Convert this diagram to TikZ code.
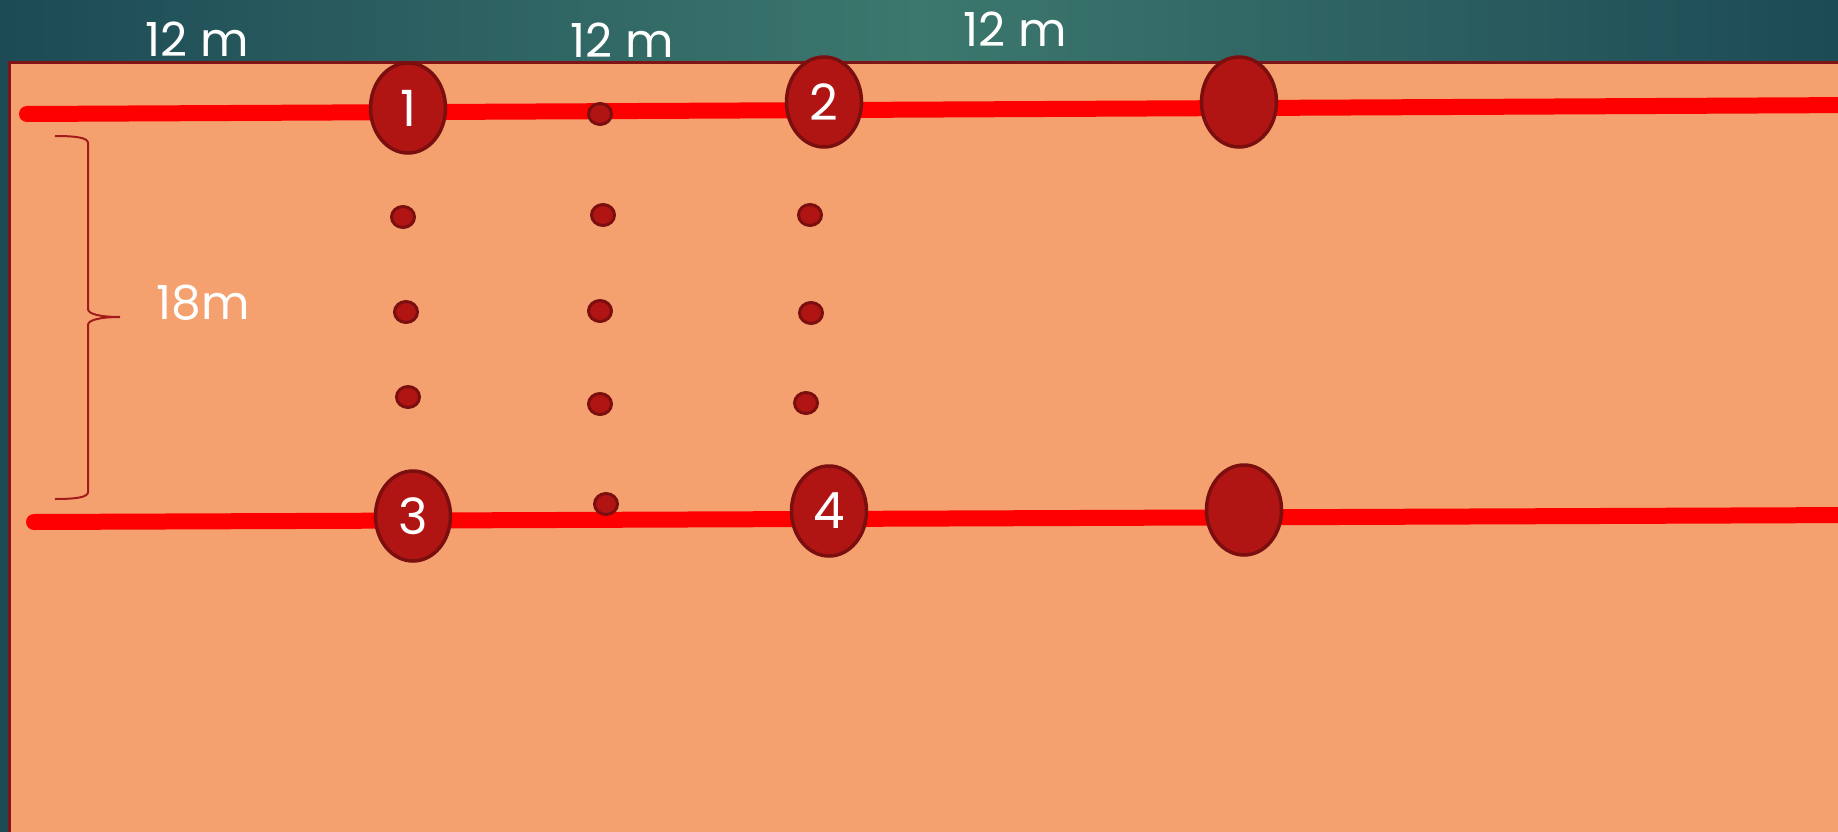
\documentclass[tikz,border=0pt]{standalone}
\usepackage{fontspec}
\setmainfont{Poppins}
\usepackage{xcolor}
\usepackage{tikz}
\usetikzlibrary{shapes.geometric}
\definecolor{sitefill}{HTML}{F4A16F}
\definecolor{siteedge}{HTML}{7E1416}
\definecolor{tealdark}{HTML}{1D4A55}
\definecolor{teallight}{HTML}{3C786E}
\definecolor{pilefill}{HTML}{B01514}
\definecolor{pileedge}{HTML}{7B0F0F}
\definecolor{bracered}{HTML}{A31A1A}
\tikzset{
  bigpile/.style={ellipse,draw=pileedge,fill=pilefill,line width=3.5pt,
    minimum width=75pt,minimum height=90pt,inner sep=0pt,
    text=white,font=\fontsize{50}{54}\selectfont},
  smallpile/.style={ellipse,draw=pileedge,fill=pilefill,line width=3pt,
    minimum width=23pt,minimum height=21pt,inner sep=0pt},
  pileline/.style={draw=red,line width=16pt,line cap=round},
  dimlabel/.style={text=white,inner sep=0pt,font=\fontsize{47}{50}\selectfont},
}

\begin{document}
\begin{tikzpicture}[x=1pt,y=-1pt]
  \useasboundingbox (0,0) rectangle (1838,832);
  \clip (0,0) rectangle (1838,832);
  % background and site
  \shade[left color=tealdark,right color=tealdark,middle color=teallight]
    (0,0) rectangle (1838,832);
  \draw[siteedge,line width=3pt,fill=sitefill] (9,63) rectangle (1860,860);

  % pile rows
  \coordinate (topL) at (27,114);
  \coordinate (topR) at (1860,105);
  \coordinate (botL) at (34,522);
  \coordinate (botR) at (1860,515);
  \draw[pileline] (topL) -- (topR);
  \draw[pileline] (botL) -- (botR);

  \node[bigpile] (p1) at (408,108) {1};
  \node[bigpile] (p2) at (824,102) {2};
  \node[bigpile] (p5) at (1239,102) {};
  \node[bigpile] (p3) at (413,516) {3};
  \node[bigpile] (p4) at (829,511) {4};
  \node[bigpile] (p6) at (1244,510) {};

  \foreach \px/\py [count=\i] in {403/217,406/312,408/397,600/114,603/215,
      600/311,600/404,606/504,810/215,811/313,806/403}
    \node[smallpile] (d\i) at (\px,\py) {};

  % spacing
  \draw[bracered,line width=2pt] (55,136) .. controls (78,136) and (88,138) .. (88,143)
    -- (88,309) .. controls (88,314) and (100,317) .. (120,317)
    .. controls (100,317) and (88,320) .. (88,325)
    -- (88,492) .. controls (88,497) and (78,499) .. (55,499);
  \node[dimlabel] (h1) at (203,303) {18m};
  \node[dimlabel] (w1) at (197,39) {12 m};
  \node[dimlabel] (w2) at (622,40) {12 m};
  \node[dimlabel] (w3) at (1015,29) {12 m};
\end{tikzpicture}
\end{document}
